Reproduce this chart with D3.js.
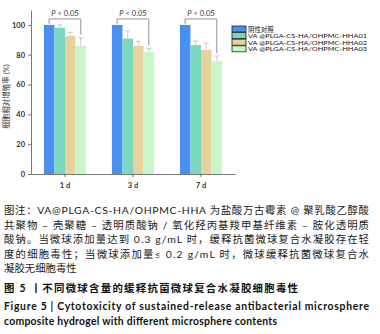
<!DOCTYPE html>
<html>
<head>
<meta charset="utf-8">
<script src="https://cdn.jsdelivr.net/npm/d3@7"></script>
<style>
  html, body { margin: 0; padding: 0; background: #fff; }
  svg { display: block; }
</style>
</head>
<body>
<svg id="chart" width="380" height="334"></svg>
<script>
// data
const days = ['1 d', '3 d', '7 d'];
const groups = ['阴性对照', 'VA @PLGA-CS-HA/OHPMC-HHA01', 'VA @PLGA-CS-HA/OHPMC-HHA02', 'VA @PLGA-CS-HA/OHPMC-HHA03'];
const colors = ['#4b8ff0', '#79d8bf', '#e7d29e', '#c8f6c9'];
const means = [
  [100, 98.2, 92.6, 86.0],
  [100, 90.8, 85.9, 81.8],
  [100, 86.5, 83.2, 75.8]
];
const errs = [
  [0, 1.8, 2.4, 5.4],
  [0, 5.2, 3.1, 2.5],
  [0, 2.7, 4.5, 3.3]
];
const yTicks = [0, 20, 40, 60, 80, 100];

const captionLines = [
  { t: '图注：VA@PLGA-CS-HA/OHPMC-HHA 为盐酸万古霉素 @ 聚乳酸乙醇酸', justify: true },
  { t: '共聚物 – 壳聚糖 – 透明质酸钠 / 氧化羟丙基羧甲基纤维素 – 胺化透明质', justify: true },
  { t: '酸钠。当微球添加量达到 0.3 g/mL 时，缓释抗菌微球复合水凝胶存在轻', justify: true },
  { t: '度的细胞毒性；当微球添加量≤ 0.2 g/mL 时，微球缓释抗菌微球复合水', justify: true },
  { t: '凝胶无细胞毒性', justify: false }
];

const svg = d3.select('#chart');
const font = "Lato, 'Noto Sans CJK SC', sans-serif";

const x = d3.scaleBand().domain(days).range([31, 235]).paddingInner(0.38).paddingOuter(0.19);
const xs = d3.scaleBand().domain(d3.range(groups.length)).range([0, x.bandwidth()]);
const y = d3.scaleLinear().domain([0, 110]).range([174, 10]);

// axes
const yAxis = svg.append('g')
  .attr('transform', 'translate(31,0)')
  .call(d3.axisLeft(y).tickValues(yTicks).tickSize(3).tickSizeOuter(0));
const xAxis = svg.append('g')
  .attr('transform', 'translate(0,174)')
  .call(d3.axisBottom(x).tickSize(3).tickSizeOuter(0));

[yAxis, xAxis].forEach(g => {
  g.select('.domain').attr('stroke', '#555').attr('stroke-width', 0.8);
  g.selectAll('.tick line').attr('stroke', '#555').attr('stroke-width', 0.8);
  g.selectAll('.tick text').attr('font-family', font).attr('font-size', 7.5)
    .attr('font-weight', 'bold').attr('fill', '#333');
});
xAxis.selectAll('.tick text').attr('dy', '1.1em');

svg.append('text')
  .attr('transform', `translate(9,${y(52)}) rotate(-90)`)
  .attr('text-anchor', 'middle')
  .attr('font-family', font).attr('font-size', 7.5).attr('fill', '#333')
  .text('细胞相对增殖率 (%)');

// bars
const dayG = svg.selectAll('g.day').data(days).join('g')
  .attr('class', 'day')
  .attr('transform', d => `translate(${x(d)},0)`);

dayG.each(function (d, di) {
  const g = d3.select(this);
  const rows = means[di].map((v, i) => ({ v, e: errs[di][i], i }));

  // error whiskers (upper only)
  rows.filter(r => r.e > 0).forEach(r => {
    const cx = xs(r.i) + xs.bandwidth() / 2;
    g.append('line').attr('x1', cx).attr('x2', cx)
      .attr('y1', y(r.v)).attr('y2', y(r.v + r.e))
      .attr('stroke', '#bbb').attr('stroke-width', 0.8);
    g.append('line').attr('x1', cx - 2.5).attr('x2', cx + 2.5)
      .attr('y1', y(r.v + r.e)).attr('y2', y(r.v + r.e))
      .attr('stroke', '#bbb').attr('stroke-width', 0.8);
  });

  g.selectAll('rect').data(rows).join('rect')
    .attr('x', r => xs(r.i))
    .attr('width', xs.bandwidth())
    .attr('y', r => y(r.v))
    .attr('height', r => y(0) - y(r.v))
    .attr('fill', r => colors[r.i]);

  // significance bracket: control vs highest dose
  const x1 = xs(0) + xs.bandwidth() / 2;
  const x2 = xs(3) + xs.bandwidth() / 2;
  const top = y(100) - 6;
  const last = rows[3];
  g.append('path')
    .attr('d', `M${x1},${y(100) - 1}V${top}H${x2}V${y(last.v + last.e) - 3}`)
    .attr('fill', 'none').attr('stroke', '#888').attr('stroke-width', 0.9);
  g.append('text')
    .attr('x', (x1 + x2) / 2).attr('y', top - 3)
    .attr('text-anchor', 'middle')
    .attr('font-family', font).attr('font-size', 7.5).attr('fill', '#333')
    .html('<tspan font-style="italic">P</tspan> &lt; 0.05');
});

// legend
const leg = svg.append('g').attr('transform', 'translate(232,26)');
groups.forEach((name, i) => {
  const row = leg.append('g').attr('transform', `translate(0,${i * 6.6})`);
  row.append('rect').attr('width', 14).attr('height', 6)
    .attr('fill', colors[i]).attr('stroke', '#222').attr('stroke-width', 0.8);
  const t = row.append('text').attr('x', 16).attr('y', 5.6)
    .attr('font-family', font).attr('font-size', 6.4).attr('fill', '#111')
    .text(name);
  if (i > 0) t.attr('textLength', 119).attr('lengthAdjust', 'spacingAndGlyphs');
});

// caption
const cap = svg.append('g').attr('font-family', font).attr('fill', '#222');
captionLines.forEach((ln, i) => {
  const t = cap.append('text').attr('x', 4).attr('y', 214 + i * 14.5)
    .attr('font-size', 10.4).text(ln.t);
  if (ln.justify) t.attr('textLength', 365).attr('lengthAdjust', 'spacing');
});
cap.append('text').attr('x', 4).attr('y', 292)
  .attr('font-size', 10.4).attr('font-weight', 'bold').attr('fill', '#111')
  .attr('textLength', 294).attr('lengthAdjust', 'spacing')
  .text('图 5  丨不同微球含量的缓释抗菌微球复合水凝胶细胞毒性');
cap.append('text').attr('x', 4).attr('y', 310)
  .attr('font-size', 10.4).attr('font-weight', 'bold').attr('fill', '#111')
  .attr('textLength', 365).attr('lengthAdjust', 'spacing')
  .text('Figure 5  |  Cytotoxicity of sustained-release antibacterial microsphere');
cap.append('text').attr('x', 4).attr('y', 325)
  .attr('font-size', 10.4).attr('font-weight', 'bold').attr('fill', '#111')
  .attr('textLength', 273).attr('lengthAdjust', 'spacing')
  .text('composite hydrogel with different microsphere contents');
</script>
</body>
</html>
